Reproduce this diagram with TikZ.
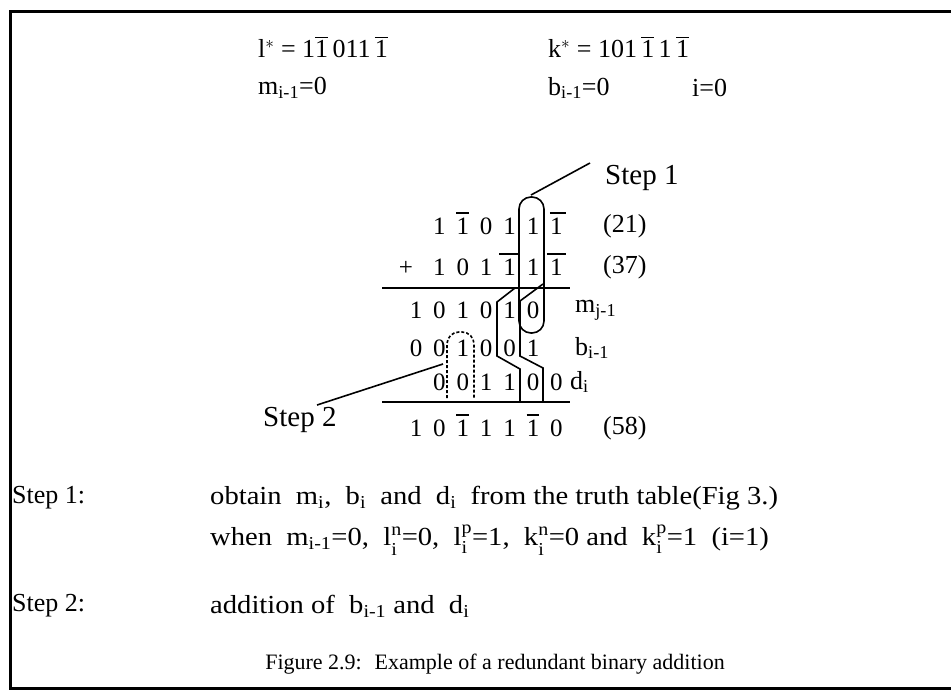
\documentclass[tikz,border=0pt]{standalone}
\usepackage{amsmath}
\usepackage{fontspec}
\setmainfont{Liberation Serif}
\newfontfamily\widefont[FakeStretch=1.1]{Liberation Serif}
\usetikzlibrary{calc}
\newcommand\ob[1]{$\overline{\text{#1}}$}
\newcommand\sbx[1]{$_{\text{#1}}$}
\newcommand\ssx[2]{$^{\text{\raisebox{1pt}{#1}}}_{\text{\raisebox{-3pt}{#2}}}$}
\begin{document}
\begin{tikzpicture}[x=1pt,y=-1pt,
  txt/.style={inner sep=0pt,anchor=west,font=\widefont\fontsize{26}{30}\selectfont},
  lab/.style={inner sep=0pt,anchor=west,font=\fontsize{26}{30}\selectfont},
  big/.style={inner sep=0pt,anchor=west,font=\fontsize{26}{30}\selectfont},
  stp/.style={inner sep=0pt,anchor=west,font=\fontsize{29}{32}\selectfont},
  dig/.style={inner sep=0pt,text height=17pt,text depth=0pt,font=\fontsize{25}{30}\selectfont},
  rule/.style={line width=2.6pt},
  thin/.style={line width=1.6pt},
  ol/.style={line width=2pt},
  frame/.style={line width=3pt}]
\useasboundingbox (0,0) rectangle (951,694);
% frame
\draw[frame] (960,11) -- (10,11) -- (10,688) -- (960,688);
% top lines
\node[big] (lstar) at (258,47) {l$^{*}$ = 1\ob{1}\,011\,\ob{1}};
\node[big] (kstar) at (548,47) {k$^{*}$ = 101\,\ob{1}\,1\,\ob{1}};
\node[big] (mzero) at (258,88) {m\sbx{i-1}=0};
\node[big] (bzero) at (548,88) {b\sbx{i-1}=0};
\node[big] (izero) at (692,88) {i=0};
% digits
\foreach \d [count=\k from 1] in {1,1,0,1,1,1}
  \node[dig] (ra\k) at ({416+23.4*\k},226) {\d};
\foreach \d [count=\k from 1] in {1,0,1,1,1,1}
  \node[dig] (rb\k) at ({416+23.4*\k},267) {\d};
\foreach \d [count=\k from 0] in {1,0,1,0,1,0}
  \node[dig] (rm\k) at ({416+23.4*\k},310) {\d};
\foreach \d [count=\k from 0] in {0,0,1,0,0,1}
  \node[dig] (rbb\k) at ({416+23.4*\k},348) {\d};
\foreach \d [count=\k from 1] in {0,0,1,1,0,0}
  \node[dig] (rd\k) at ({416+23.4*\k},382) {\d};
\foreach \d [count=\k from 0] in {1,0,1,1,1,1,0}
  \node[dig] (rs\k) at ({416+23.4*\k},428) {\d};
\node[dig] (plus) at (406,267) {+};
% overlines
\draw[ol] ([yshift=4pt]ra2.north west) -- ([yshift=4pt]ra2.north east);
\draw[ol] ([yshift=4pt]ra6.north west) -- ([xshift=3pt,yshift=4pt]ra6.north east);
\draw[ol] ([xshift=-4pt,yshift=4pt]rb4.north west) -- ([xshift=2pt,yshift=4pt]rb4.north east);
\draw[ol] ([xshift=-3pt,yshift=4pt]rb6.north west) -- ([xshift=3pt,yshift=4pt]rb6.north east);
\draw[ol] ([yshift=4pt]rs2.north west) -- ([yshift=4pt]rs2.north east);
\draw[ol] ([yshift=4pt]rs5.north west) -- ([yshift=4pt]rs5.north east);
% right labels
\node[big] (n21) at (603,226) {(21)};
\node[big] (n37) at (603,267) {(37)};
\node[big] (n58) at (603,428) {(58)};
\node[big] (lm) at (575,310) {m$_{\text{j-1}}$};
\node[big] (lb) at (575,348) {b$_{\text{i-1}}$};
\node[big] (ld) at (570,382) {d$_{\text{i}}$};
% sum lines
\coordinate (s1a) at (382,288); \coordinate (s1b) at (570,288);
\coordinate (s2a) at (382,402); \coordinate (s2b) at (570,402);
\draw[rule] (s1a) -- (s1b);
\draw[rule] (s2a) -- (s2b);
% step 1 capsule
\draw[thin,rounded corners=12pt] (519,197) rectangle (544,333);
\node[stp] (st1) at (605,178) {Step 1};
\coordinate (p1) at (531,195);
\coordinate (q1) at (590,163);
\draw[thin] (q1) -- (p1);
% band
\draw[thin] (515,288) -- (497,302) -- (497,356) -- (520,369) -- (520,402);
\draw[thin] (543,284) -- (520,301) -- (520,356) -- (543,368) -- (543,402);
% step 2 loop
\draw[thin,densely dashed,rounded corners=12pt] (447,398) -- (447,332) -- (474,332) -- (474,398);
\node[stp] (st2) at (263,420) {Step 2};
\coordinate (p2) at (443,364);
\coordinate (q2) at (317,405);
\draw[thin] (q2) -- (p2);
% bottom text
\node[lab] (s1l) at (12,498) {Step 1:};
\node[txt] (s1t) at (210,498) {obtain \ m\sbx{i}, \ b\sbx{i} \ and \ d\sbx{i} \ from the truth table(Fig 3.)};
\node[txt] (s1u) at (210,540) {when \ m\sbx{i-1}=0, \ l\ssx{n}{i}=0, \ l\ssx{p}{i}=1, \ k\ssx{n}{i}=0 and \ k\ssx{p}{i}=1 \ (i=1)};
\node[lab] (s2l) at (12,606) {Step 2:};
\node[txt] (s2t) at (210,606) {addition of \ b\sbx{i-1} and \ d\sbx{i}};
\node[inner sep=0pt,font=\fontsize{22}{26}\selectfont] (cap) at (495,664) {Figure 2.9: \ Example of a redundant binary addition};
\end{tikzpicture}
\end{document}
